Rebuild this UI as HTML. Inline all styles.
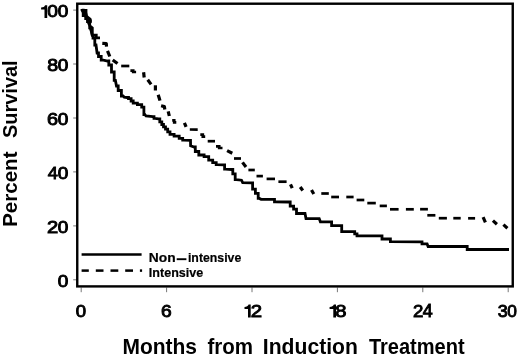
<!DOCTYPE html>
<html><head><meta charset="utf-8"><title>Survival</title>
<style>
html,body{margin:0;padding:0;background:#fff;}
body{width:520px;height:357px;overflow:hidden;font-family:"Liberation Sans",sans-serif;}
</style></head><body>
<svg width="520" height="357" viewBox="0 0 520 357" style="display:block;will-change:transform;filter:grayscale(1)">
<rect x="0" y="0" width="520" height="357" fill="#fff"/>
<line x1="81.2" y1="287.5" x2="81.2" y2="292.2" stroke="#777" stroke-width="1"/>
<line x1="166.6" y1="287.5" x2="166.6" y2="292.2" stroke="#777" stroke-width="1"/>
<line x1="252.0" y1="287.5" x2="252.0" y2="292.2" stroke="#777" stroke-width="1"/>
<line x1="337.4" y1="287.5" x2="337.4" y2="292.2" stroke="#777" stroke-width="1"/>
<line x1="422.8" y1="287.5" x2="422.8" y2="292.2" stroke="#777" stroke-width="1"/>
<line x1="508.2" y1="287.5" x2="508.2" y2="292.2" stroke="#777" stroke-width="1"/>
<line x1="73.2" y1="279.8" x2="77" y2="279.8" stroke="#777" stroke-width="1"/>
<line x1="73.2" y1="225.9" x2="77" y2="225.9" stroke="#777" stroke-width="1"/>
<line x1="73.2" y1="171.9" x2="77" y2="171.9" stroke="#777" stroke-width="1"/>
<line x1="73.2" y1="118.0" x2="77" y2="118.0" stroke="#777" stroke-width="1"/>
<line x1="73.2" y1="64.0" x2="77" y2="64.0" stroke="#777" stroke-width="1"/>
<line x1="73.2" y1="10.1" x2="77" y2="10.1" stroke="#777" stroke-width="1"/>
<rect x="77.25" y="3.7" width="435.5" height="282.7" fill="none" stroke="#000" stroke-width="2.4"/>
<polyline points="81.8,10.2 83.2,10.2 83.2,15.5 84.7,15.5 85.7,15.5 85.7,18.5 86.7,18.5 87.5,18.5 87.5,21.5 88.2,21.5 89.0,23.8 89.7,23.8 89.7,27.8 90.4,27.8 91.6,32.4 92.2,35.3 93.0,35.3 93.0,38.0 93.7,38.0 94.8,38.0 94.8,45.0 96.0,45.0 97.1,53.0 98.5,53.0 98.5,56.5 100.0,56.5 101.2,56.5 101.2,60.0 102.3,60.0 107.5,61.0 108.8,61.0 108.8,65.0 110.0,65.0 111.5,65.0 111.5,72.0 113.0,72.0 114.2,72.0 114.2,80.4 115.4,80.4 116.5,86.0 118.2,86.0 118.2,90.5 119.8,90.5 121.4,90.5 121.4,96.0 123.1,96.0 124.2,97.2 127.0,97.5 128.5,97.5 128.5,98.7 130.0,98.7 131.1,98.7 131.1,101.0 132.2,101.0 133.2,101.0 133.2,103.2 134.3,103.2 137.4,103.2 137.4,104.6 140.4,104.6 141.7,104.6 141.7,107.1 143.0,107.1 143.9,107.1 143.9,114.5 144.8,114.5 146.0,116.0 152.9,116.7 154.0,116.7 154.0,118.4 155.1,118.4 158.5,118.9 159.8,118.9 159.8,121.8 161.1,121.8 161.8,121.8 161.8,124.5 162.5,124.5 163.5,124.5 163.5,126.8 164.5,126.8 165.5,126.8 165.5,129.2 166.5,129.2 167.7,129.2 167.7,131.8 168.8,131.8 170.0,131.8 170.0,134.4 171.1,134.4 174.1,134.4 174.1,136.1 177.0,136.1 179.2,136.1 179.2,138.4 181.5,138.4 182.7,138.4 182.7,140.2 183.8,140.2 190.5,140.3 190.6,145.8 194.2,147.0 195.3,147.0 195.3,151.5 196.5,151.5 198.8,151.5 198.8,155.0 201.1,155.0 204.1,155.0 204.1,156.7 207.0,156.7 208.7,156.7 208.7,160.2 210.4,160.2 212.7,160.2 212.7,162.6 215.0,162.6 216.2,162.6 216.2,164.6 217.3,164.6 223.7,164.8 224.6,164.8 224.6,169.2 225.4,169.2 231.7,169.5 232.8,169.5 232.8,173.8 234.0,173.8 235.2,173.8 235.2,179.6 236.3,179.6 241.5,180.2 242.7,182.6 251.5,182.9 252.6,182.9 252.6,189.2 253.7,189.2 255.4,189.2 255.4,193.3 257.1,193.3 258.2,193.3 258.2,198.4 259.4,198.4 261.1,199.3 273.8,199.3 274.5,199.3 274.5,201.9 275.2,201.9 288.4,202.0 290.2,202.0 290.2,206.1 292.0,206.1 293.6,206.1 293.6,209.2 295.2,209.2 296.5,209.2 296.5,213.5 297.8,213.5 305.0,213.5 306.0,218.6 319.2,218.6 320.4,221.8 330.2,221.8 331.6,221.8 331.6,225.6 333.0,225.6 340.0,225.6 341.7,225.6 341.7,231.6 343.4,231.6 353.6,231.6 354.7,231.6 354.7,233.8 355.9,233.8 357.0,233.8 357.0,235.9 358.1,235.9 381.2,235.9 382.0,235.9 382.0,239.0 382.8,239.0 389.7,239.0 390.4,239.0 390.4,241.7 391.2,241.7 421.0,241.8 422.0,241.8 422.0,243.9 423.0,243.9 427.1,243.9 428.1,246.5 466.5,246.5 467.2,246.5 467.2,249.5 468.0,249.5 509.0,249.5" fill="none" stroke="#000" stroke-width="2.8" stroke-linejoin="miter" stroke-linecap="butt"/>
<polyline points="92.6,35.2 96.3,35.2 96.3,37.8 100.0,37.8" fill="none" stroke="#000" stroke-width="2.7" stroke-linejoin="miter" stroke-linecap="butt"/>
<polyline points="102.3,43.3 106.3,43.5 106.5,46.7" fill="none" stroke="#000" stroke-width="3.2" stroke-linejoin="round" stroke-linecap="butt"/>
<polyline points="107.5,50.8 109.8,56.5" fill="none" stroke="#000" stroke-width="3.2" stroke-linejoin="round" stroke-linecap="butt"/>
<polyline points="112.7,60.0 117.5,63.5" fill="none" stroke="#000" stroke-width="3.2" stroke-linejoin="round" stroke-linecap="butt"/>
<polyline points="121.2,66.0 129.3,66.0" fill="none" stroke="#000" stroke-width="2.7" stroke-linejoin="miter" stroke-linecap="butt"/>
<polyline points="130.4,70.6 133.2,70.6 133.2,72.0 136.1,72.0" fill="none" stroke="#000" stroke-width="2.7" stroke-linejoin="miter" stroke-linecap="butt"/>
<polyline points="143.6,72.3 144.2,77.5" fill="none" stroke="#000" stroke-width="3.2" stroke-linejoin="round" stroke-linecap="butt"/>
<polyline points="147.7,79.8 151.1,84.4" fill="none" stroke="#000" stroke-width="3.2" stroke-linejoin="round" stroke-linecap="butt"/>
<polyline points="155.4,85.3 155.4,90.5" fill="none" stroke="#000" stroke-width="3.2" stroke-linejoin="round" stroke-linecap="butt"/>
<polyline points="158.2,94.8 160.0,100.6" fill="none" stroke="#000" stroke-width="3.2" stroke-linejoin="round" stroke-linecap="butt"/>
<polyline points="161.1,105.8 164.4,106.6 164.8,109.5" fill="none" stroke="#000" stroke-width="3.2" stroke-linejoin="round" stroke-linecap="butt"/>
<polyline points="168.2,111.4 169.3,116.0" fill="none" stroke="#000" stroke-width="3.2" stroke-linejoin="round" stroke-linecap="butt"/>
<polyline points="172.2,120.3 174.2,120.3 174.2,122.3 176.3,122.3" fill="none" stroke="#000" stroke-width="2.7" stroke-linejoin="miter" stroke-linecap="butt"/>
<polyline points="184.4,122.9 186.1,126.9" fill="none" stroke="#000" stroke-width="3.2" stroke-linejoin="round" stroke-linecap="butt"/>
<polyline points="189.8,129.5 197.7,129.6" fill="none" stroke="#000" stroke-width="2.7" stroke-linejoin="miter" stroke-linecap="butt"/>
<polyline points="200.3,134.6 202.8,134.6 202.8,136.6 205.2,136.6" fill="none" stroke="#000" stroke-width="2.7" stroke-linejoin="miter" stroke-linecap="butt"/>
<polyline points="207.7,141.2 215.0,141.2" fill="none" stroke="#000" stroke-width="2.7" stroke-linejoin="miter" stroke-linecap="butt"/>
<polyline points="216.0,146.4 219.2,146.4 219.2,148.0 222.5,148.0" fill="none" stroke="#000" stroke-width="2.7" stroke-linejoin="miter" stroke-linecap="butt"/>
<polyline points="227.1,150.6 232.3,153.2" fill="none" stroke="#000" stroke-width="3.2" stroke-linejoin="round" stroke-linecap="butt"/>
<polyline points="234.0,158.5 241.0,158.5" fill="none" stroke="#000" stroke-width="2.7" stroke-linejoin="miter" stroke-linecap="butt"/>
<polyline points="242.5,162.4 246.0,167.0" fill="none" stroke="#000" stroke-width="3.2" stroke-linejoin="round" stroke-linecap="butt"/>
<polyline points="248.4,170.0 254.8,170.0" fill="none" stroke="#000" stroke-width="2.7" stroke-linejoin="miter" stroke-linecap="butt"/>
<polyline points="256.5,176.1 262.9,176.1" fill="none" stroke="#000" stroke-width="2.7" stroke-linejoin="miter" stroke-linecap="butt"/>
<polyline points="266.6,178.9 275.0,178.9" fill="none" stroke="#000" stroke-width="2.7" stroke-linejoin="miter" stroke-linecap="butt"/>
<polyline points="278.4,181.7 286.6,181.7" fill="none" stroke="#000" stroke-width="2.7" stroke-linejoin="miter" stroke-linecap="butt"/>
<polyline points="290.5,184.4 292.2,188.2" fill="none" stroke="#000" stroke-width="3.2" stroke-linejoin="round" stroke-linecap="butt"/>
<polyline points="300.2,187.0 302.8,190.5" fill="none" stroke="#000" stroke-width="3.2" stroke-linejoin="round" stroke-linecap="butt"/>
<polyline points="311.5,190.0 313.8,194.0" fill="none" stroke="#000" stroke-width="3.2" stroke-linejoin="round" stroke-linecap="butt"/>
<polyline points="321.3,193.5 328.8,193.5" fill="none" stroke="#000" stroke-width="2.7" stroke-linejoin="miter" stroke-linecap="butt"/>
<polyline points="331.2,197.0 339.0,197.0" fill="none" stroke="#000" stroke-width="2.7" stroke-linejoin="miter" stroke-linecap="butt"/>
<polyline points="346.3,197.0 353.6,197.0" fill="none" stroke="#000" stroke-width="2.7" stroke-linejoin="miter" stroke-linecap="butt"/>
<polyline points="356.6,200.0 364.3,200.0" fill="none" stroke="#000" stroke-width="2.7" stroke-linejoin="miter" stroke-linecap="butt"/>
<polyline points="367.3,203.1 375.8,203.1" fill="none" stroke="#000" stroke-width="2.7" stroke-linejoin="miter" stroke-linecap="butt"/>
<polyline points="379.7,205.9 386.9,205.9" fill="none" stroke="#000" stroke-width="2.7" stroke-linejoin="miter" stroke-linecap="butt"/>
<polyline points="390.0,209.3 398.6,209.3" fill="none" stroke="#000" stroke-width="2.7" stroke-linejoin="miter" stroke-linecap="butt"/>
<polyline points="405.9,209.3 413.8,209.3" fill="none" stroke="#000" stroke-width="2.7" stroke-linejoin="miter" stroke-linecap="butt"/>
<polyline points="420.1,209.2 427.9,209.2" fill="none" stroke="#000" stroke-width="2.7" stroke-linejoin="miter" stroke-linecap="butt"/>
<polyline points="427.3,215.3 435.4,215.3" fill="none" stroke="#000" stroke-width="2.7" stroke-linejoin="miter" stroke-linecap="butt"/>
<polyline points="438.8,218.2 446.9,218.2" fill="none" stroke="#000" stroke-width="2.7" stroke-linejoin="miter" stroke-linecap="butt"/>
<polyline points="453.3,218.2 460.7,218.2" fill="none" stroke="#000" stroke-width="2.7" stroke-linejoin="miter" stroke-linecap="butt"/>
<polyline points="468.1,218.3 475.1,218.3" fill="none" stroke="#000" stroke-width="2.7" stroke-linejoin="miter" stroke-linecap="butt"/>
<polyline points="483.1,217.1 485.4,222.3" fill="none" stroke="#000" stroke-width="3.2" stroke-linejoin="round" stroke-linecap="butt"/>
<polyline points="492.9,220.6 496.9,224.2" fill="none" stroke="#000" stroke-width="3.2" stroke-linejoin="round" stroke-linecap="butt"/>
<polyline points="503.4,224.6 507.4,228.2" fill="none" stroke="#000" stroke-width="3.2" stroke-linejoin="round" stroke-linecap="butt"/>
<polygon points="80.6,9.1 80.6,10.6 83.5,15.5 85.5,18.5 87.0,21.5 87.8,23.8 89.2,27.8 90.4,32.4 91.0,35.3 93.6,35.3 93.7,33.5 93.7,27.2 92.5,26.3 90.6,24.8 90.7,23.4 91.9,22.6 91.9,20.0 91.3,18.3 89.0,16.6 87.9,15.5 87.4,12.2 87.4,9.1" fill="#000"/>
<line x1="81.6" y1="254.5" x2="141.6" y2="254.5" stroke="#000" stroke-width="2.5"/>
<line x1="81.6" y1="270.6" x2="88.8" y2="270.6" stroke="#000" stroke-width="2.5"/>
<line x1="95.8" y1="270.6" x2="103.5" y2="270.6" stroke="#000" stroke-width="2.5"/>
<line x1="110.5" y1="270.6" x2="118.3" y2="270.6" stroke="#000" stroke-width="2.5"/>
<line x1="125.2" y1="270.6" x2="133" y2="270.6" stroke="#000" stroke-width="2.5"/>
<line x1="139.9" y1="270.6" x2="142.1" y2="270.6" stroke="#000" stroke-width="2.5"/>
<g font-family="Liberation Sans, sans-serif" fill="#000">
<text transform="translate(148.79,261.60) scale(1.0471,1)" font-size="13.2" font-weight="bold" stroke="#000" stroke-width="0.2">Non</text>
<line x1="176.7" y1="259.2" x2="186.4" y2="259.2" stroke="#000" stroke-width="1.9"/>
<text transform="translate(187.95,261.60) scale(0.9326,1)" font-size="13.2" font-weight="bold" stroke="#000" stroke-width="0.2">intensive</text>
<text transform="translate(148.87,277.20) scale(0.9499,1)" font-size="13.2" font-weight="bold" stroke="#000" stroke-width="0.2">Intensive</text>
<text transform="translate(57.81,287.08) scale(1.1399,1)" font-size="16.67" stroke="#000" stroke-width="0.9">0</text>
<text transform="translate(57.81,233.14) scale(1.1399,1)" font-size="16.67" stroke="#000" stroke-width="0.9">0</text>
<text transform="translate(47.04,233.31) scale(1.1934,1)" font-size="16.91" stroke="#000" stroke-width="0.9">2</text>
<text transform="translate(57.81,179.20) scale(1.1399,1)" font-size="16.67" stroke="#000" stroke-width="0.9">0</text>
<text transform="translate(47.65,179.37) scale(1.0622,1)" font-size="17.15" stroke="#000" stroke-width="0.9">4</text>
<text transform="translate(57.81,125.26) scale(1.1399,1)" font-size="16.67" stroke="#000" stroke-width="0.9">0</text>
<text transform="translate(47.06,125.26) scale(1.1922,1)" font-size="16.67" stroke="#000" stroke-width="0.9">6</text>
<text transform="translate(57.81,71.32) scale(1.1399,1)" font-size="16.67" stroke="#000" stroke-width="0.9">0</text>
<text transform="translate(47.21,71.32) scale(1.1745,1)" font-size="16.67" stroke="#000" stroke-width="0.9">8</text>
<text transform="translate(57.81,17.38) scale(1.1399,1)" font-size="16.67" stroke="#000" stroke-width="0.9">0</text>
<text transform="translate(47.30,17.38) scale(1.1524,1)" font-size="16.67" stroke="#000" stroke-width="0.9">0</text>
<path d="M45.10,5.30 L47.20,5.30 L47.20,18.00 L44.50,18.00 L44.50,9.49 L41.10,9.49 L41.10,7.59 C43.30,7.49 44.50,6.89 45.10,5.30 Z"/>
<text transform="translate(75.83,316.98) scale(1.0872,1)" font-size="17.09" stroke="#000" stroke-width="0.9">0</text>
<text transform="translate(160.99,316.98) scale(1.1248,1)" font-size="17.09" stroke="#000" stroke-width="0.9">6</text>
<path d="M248.60,304.60 L250.70,304.60 L250.70,317.60 L248.00,317.60 L248.00,308.89 L244.50,308.89 L244.50,306.99 C246.70,306.89 248.00,306.29 248.60,304.60 Z"/>
<text transform="translate(250.63,317.15) scale(1.1765,1)" font-size="17.34" stroke="#000" stroke-width="0.9">2</text>
<path d="M333.90,304.60 L336.00,304.60 L336.00,317.60 L333.30,317.60 L333.30,308.89 L329.60,308.89 L329.60,306.99 C331.80,306.89 333.30,306.29 333.90,304.60 Z"/>
<text transform="translate(335.18,316.98) scale(1.1827,1)" font-size="17.09" stroke="#000" stroke-width="0.9">8</text>
<text transform="translate(413.02,317.15) scale(1.0753,1)" font-size="17.34" stroke="#000" stroke-width="0.9">2</text>
<text transform="translate(422.66,317.15) scale(1.0133,1)" font-size="17.59" stroke="#000" stroke-width="0.9">4</text>
<text transform="translate(497.87,316.98) scale(1.0471,1)" font-size="17.09" stroke="#000" stroke-width="0.9">3</text>
<text transform="translate(507.17,316.98) scale(1.0139,1)" font-size="17.09" stroke="#000" stroke-width="0.9">0</text>
<text transform="translate(122.41,354.20) scale(0.9855,1)" font-size="21.3" font-weight="bold">Months</text>
<text transform="translate(207.45,354.20) scale(0.9635,1)" font-size="21.3" font-weight="bold">from</text>
<text transform="translate(262.80,354.20) scale(0.9925,1)" font-size="21.3" font-weight="bold">Induction</text>
<text transform="translate(368.88,354.20) scale(0.9417,1)" font-size="21.3" font-weight="bold">Treatment</text>
<text transform="translate(17.00,226.86) rotate(-90) scale(0.9979,1)" font-size="20.6" font-weight="bold">Percent</text>
<text transform="translate(17.00,138.06) rotate(-90) scale(0.9701,1)" font-size="20.6" font-weight="bold">Survival</text>
</g>
</svg>
</body></html>
